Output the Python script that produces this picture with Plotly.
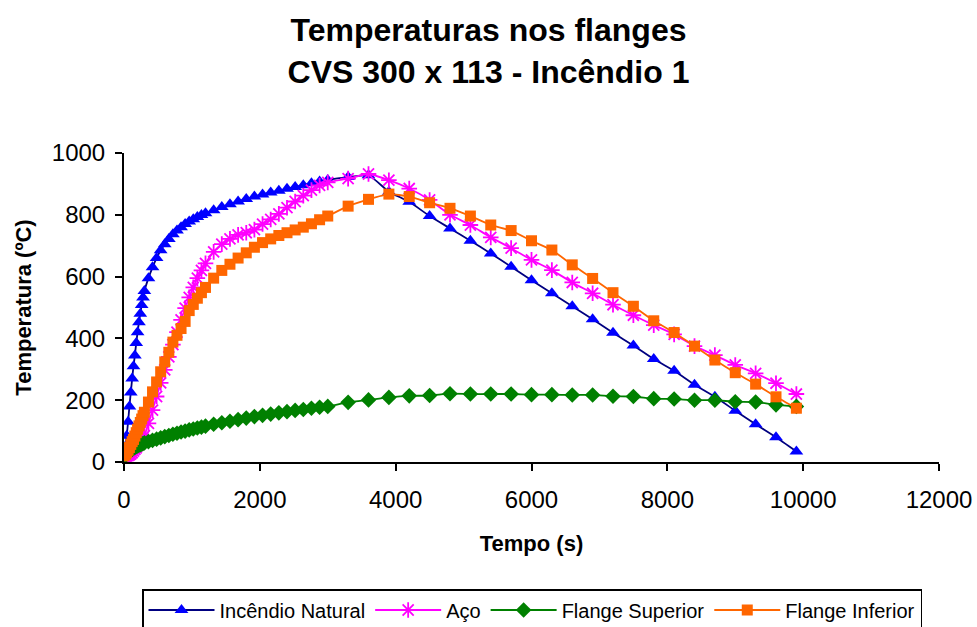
import plotly.graph_objects as go

# tempo (s)
tempo = [0, 20, 40, 60, 80, 100, 120, 140, 160, 180, 200, 220, 240, 260, 280, 300,
         360, 420, 480, 540, 600, 660, 720, 780, 840, 900, 960, 1020, 1080, 1140, 1200,
         1320, 1440, 1560, 1680, 1800, 1920, 2040, 2160, 2280, 2400, 2520, 2640, 2760, 2880, 3000,
         3300, 3600, 3900, 4200, 4500, 4800, 5100, 5400, 5700, 6000, 6300, 6600, 6900, 7200,
         7500, 7800, 8100, 8400, 8700, 9000, 9300, 9600, 9900]

incendio_natural = [20, 50, 85, 130, 180, 225, 270, 310, 345, 385, 420, 452, 480, 508, 532, 553,
                    595, 630, 660, 685, 705, 722, 737, 749, 760, 770, 778, 786, 793, 799, 805,
                    815, 825, 834, 843, 851, 859, 866, 872, 878, 884, 890, 896, 902, 908, 913,
                    922, 928, 875, 842, 796, 756, 716, 675, 632, 588, 546, 504, 462, 418,
                    377, 333, 295, 250, 211, 166, 122, 80, 34]

aco = [20, 20, 20, 21, 23, 26, 30, 35, 41, 46, 53, 60, 66, 72, 78, 85,
       125, 168, 212, 256, 298, 340, 380, 420, 460, 498, 533, 565, 595, 620, 643,
       680, 705, 722, 735, 742, 752, 770, 785, 803, 823, 843, 862, 880, 895, 905,
       917, 932, 912, 885, 848, 800, 767, 727, 692, 654, 621, 581, 546, 509,
       475, 443, 413, 375, 346, 314, 287, 255, 220]

flange_superior = [20, 22, 25, 29, 33, 37, 41, 44, 47, 50, 52, 54, 56, 58, 60, 62,
                   66, 70, 74, 78, 82, 86, 90, 93, 97, 100, 104, 107, 110, 113, 116,
                   122, 127, 132, 137, 142, 147, 151, 155, 159, 163, 167, 170, 174, 177, 180,
                   193, 201, 209, 214, 215, 221, 220, 220, 220, 218, 218, 217, 217, 213,
                   212, 205, 204, 200, 200, 195, 194, 185, 180]

flange_inferior = [20, 24, 30, 38, 47, 57, 66, 73, 84, 95, 106, 117, 128, 139, 150, 161,
                   194, 227, 259, 292, 324, 355, 388, 410, 432, 455, 490, 510, 530, 548, 565,
                   595, 620, 640, 660, 677, 695, 710, 722, 733, 742, 751, 760, 771, 784, 796,
                   828, 850, 867, 859, 839, 821, 796, 767, 749, 716, 686, 638, 594, 548,
                   504, 457, 419, 375, 330, 289, 252, 211, 174]

x_ticks = [0, 2000, 4000, 6000, 8000, 10000, 12000]
y_ticks = [0, 200, 400, 600, 800, 1000]

fonte = "Liberation Sans, Arial, sans-serif"

fig = go.Figure()
fig.add_trace(go.Scatter(
    x=tempo, y=incendio_natural, name="Incêndio Natural", mode="lines+markers",
    line=dict(color="#000080", width=1.8, shape="spline", smoothing=0.5),
    marker=dict(symbol="triangle-up", size=12, color="#0000FF"),
))
fig.add_trace(go.Scatter(
    x=tempo, y=aco, name="Aço", mode="lines+markers",
    line=dict(color="#FF00FF", width=1.8, shape="spline", smoothing=0.5),
    marker=dict(symbol="asterisk-open", size=13, color="#FF00FF",
                line=dict(color="#FF00FF", width=1.8)),
))
fig.add_trace(go.Scatter(
    x=tempo, y=flange_superior, name="Flange Superior", mode="lines+markers",
    line=dict(color="#008000", width=1.8, shape="spline", smoothing=0.5),
    marker=dict(symbol="diamond", size=12, color="#008000"),
))
fig.add_trace(go.Scatter(
    x=tempo, y=flange_inferior, name="Flange Inferior", mode="lines+markers",
    line=dict(color="#FF6600", width=1.8, shape="spline", smoothing=0.5),
    marker=dict(symbol="square", size=11, color="#FF6600"),
))

fig.update_layout(
    width=977, height=627,
    margin=dict(l=124, r=38, t=153, b=165),
    paper_bgcolor="white", plot_bgcolor="white",
    font=dict(family=fonte, color="black"),
    title=dict(text="<b>Temperaturas nos flanges<br>CVS 300 x 113 - Incêndio 1</b>",
               x=0.5, xanchor="center", y=1 - 41 / 627, yanchor="middle",
               font=dict(size=32, family=fonte, color="black")),
    showlegend=True,
    legend=dict(orientation="h", x=532 / 977, xref="container", xanchor="center",
                y=1 - 589 / 627, yref="container", yanchor="top",
                bordercolor="black", borderwidth=1.5, font=dict(size=20, family=fonte),
                itemwidth=66, tracegroupgap=0),
)
fig.update_xaxes(
    range=[0, 12000], tickvals=x_ticks, ticktext=[str(v) for v in x_ticks],
    showgrid=False, zeroline=False, showline=True, linecolor="black", linewidth=2,
    ticks="outside", ticklen=7, tickcolor="black", tickwidth=2, automargin=False,
    ticklabelstandoff=8, tickfont=dict(size=24),
    title=dict(text="<b>Tempo (s)</b>", font=dict(size=22), standoff=24),
)
fig.update_yaxes(
    range=[0, 1000], tickvals=y_ticks, ticktext=[str(v) for v in y_ticks],
    showgrid=False, zeroline=False, showline=True, linecolor="black", linewidth=2,
    ticks="outside", ticklen=7, tickcolor="black", tickwidth=2, automargin=False,
    ticklabelstandoff=5, tickfont=dict(size=24),
    title=dict(text="<b>Temperatura (ºC)</b>", font=dict(size=22), standoff=14),
)

fig.write_html("out.html", config={"displayModeBar": False},
               post_script="document.body.style.margin = '0';")
